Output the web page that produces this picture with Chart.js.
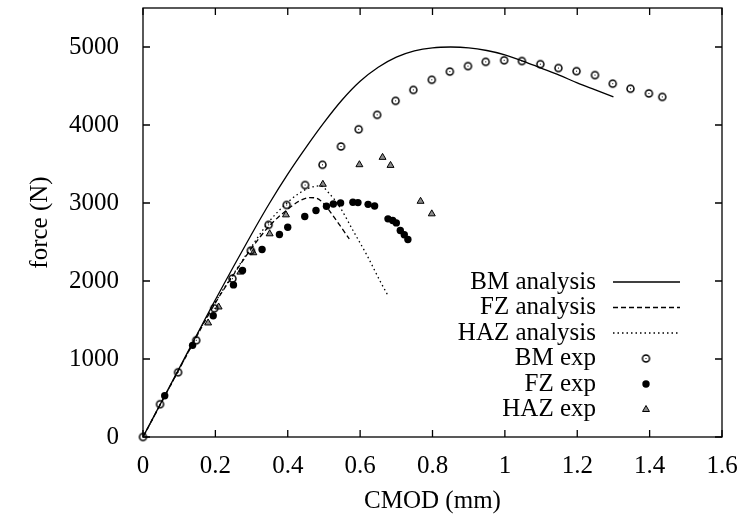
<!DOCTYPE html>
<html>
<head>
<meta charset="utf-8">
<script src="https://cdn.jsdelivr.net/npm/chart.js@4.4.0/dist/chart.umd.min.js"></script>
<style>
  html, body { margin: 0; padding: 0; background: #fff; }
  canvas { display: block; }
</style>
</head>
<body>
<canvas id="myChart" width="742" height="516"></canvas>
<script>
// analysis curves (CMOD mm, force N)
const bmAnaX = [0, 0.1, 0.2, 0.3, 0.35, 0.4, 0.45, 0.5, 0.55, 0.6, 0.65, 0.7, 0.75, 0.8, 0.85, 0.9, 0.95, 1.0, 1.05, 1.1, 1.15, 1.2, 1.25, 1.3];
const bmAnaY = [0, 880, 1760, 2600, 3000, 3370, 3710, 4030, 4320, 4560, 4740, 4870, 4950, 4990, 5000, 4990, 4955, 4900, 4820, 4730, 4640, 4540, 4450, 4360];
const fzAnaX = [0, 0.1, 0.2, 0.25, 0.3, 0.35, 0.4, 0.43, 0.46, 0.48, 0.5, 0.52, 0.54, 0.57];
const fzAnaY = [0, 870, 1720, 2080, 2420, 2710, 2920, 3020, 3070, 3060, 2990, 2870, 2740, 2540];
const hazAnaX = [0, 0.1, 0.2, 0.25, 0.3, 0.35, 0.4, 0.43, 0.46, 0.49, 0.515, 0.545, 0.58, 0.62, 0.655, 0.675];
const hazAnaY = [0, 870, 1730, 2090, 2440, 2770, 3010, 3120, 3195, 3220, 3120, 2940, 2650, 2320, 2000, 1830];

// experiments
const bmExpX = [0, 0.047, 0.097, 0.147, 0.197, 0.247, 0.298, 0.347, 0.397, 0.448, 0.496, 0.547, 0.596, 0.647, 0.698, 0.747, 0.798, 0.848, 0.898, 0.947, 0.998, 1.047, 1.098, 1.148, 1.198, 1.249, 1.298, 1.347, 1.398, 1.435];
const bmExpY = [0, 420, 830, 1240, 1650, 2030, 2390, 2720, 2975, 3230, 3490, 3725, 3945, 4130, 4310, 4450, 4580, 4685, 4755, 4810, 4830, 4820, 4780, 4730, 4690, 4640, 4530, 4465, 4405, 4360];
const fzExpX = [0.06, 0.137, 0.194, 0.25, 0.275, 0.329, 0.377, 0.4, 0.447, 0.478, 0.507, 0.526, 0.546, 0.58, 0.594, 0.622, 0.64, 0.677, 0.69, 0.7, 0.711, 0.722, 0.732];
const fzExpY = [528, 1175, 1555, 1950, 2136, 2404, 2596, 2689, 2826, 2903, 2958, 2988, 3001, 3009, 3005, 2983, 2962, 2797, 2775, 2745, 2647, 2592, 2532];
const hazExpX = [0.18, 0.209, 0.269, 0.305, 0.35, 0.395, 0.497, 0.598, 0.662, 0.684, 0.767, 0.798];
const hazExpY = [1462, 1667, 2114, 2362, 2605, 2848, 3240, 3491, 3585, 3482, 3022, 2861];

const xTicks = [0, 0.2, 0.4, 0.6, 0.8, 1, 1.2, 1.4, 1.6];
const yTicks = [0, 1000, 2000, 3000, 4000, 5000];

const seriesNames = ['BM analysis', 'FZ analysis', 'HAZ analysis', 'BM exp', 'FZ exp', 'HAZ exp'];
const xTitle = 'CMOD (mm)';
const yTitle = 'force (N)';

const FONT = '"Liberation Serif", "DejaVu Serif", serif';

const pairs = (xs, ys) => xs.map((x, i) => ({ x: x, y: ys[i] }));

// open circle with a dot in the middle
const ringDot = () => {
    const c = document.createElement('canvas');
    c.width = 11; c.height = 11;
    const g = c.getContext('2d');
    g.strokeStyle = '#000';
    g.lineWidth = 1.5;
    g.beginPath();
    g.arc(5.5, 5.5, 3.5, 0, 2 * Math.PI);
    g.stroke();
    g.fillStyle = '#000';
    g.fillRect(5, 5, 1, 1);
    return c;
}
const ringImg = ringDot();

const lineSet = (label, xs, ys, dash) => ({
    label: label,
    data: pairs(xs, ys),
    showLine: true,
    borderColor: '#000',
    borderWidth: 1.3,
    borderDash: dash,
    pointRadius: 0,
    cubicInterpolationMode: 'monotone',
    fill: false
});

// inward ticks + box, like gnuplot
const framePlugin = {
    id: 'frame',
    beforeDatasetsDraw(chart) {
        const ctx = chart.ctx;
        const { left, right, top, bottom } = chart.chartArea;
        const xs = chart.scales.x, ys = chart.scales.y;
        ctx.save();
        ctx.strokeStyle = '#000';
        ctx.lineWidth = 1.3;
        ctx.strokeRect(left, top, right - left, bottom - top);
        ctx.beginPath();
        xs.ticks.forEach((t) => {
            const px = xs.getPixelForValue(t.value);
            ctx.moveTo(px, bottom); ctx.lineTo(px, bottom - 7);
            ctx.moveTo(px, top); ctx.lineTo(px, top + 7);
        });
        ys.ticks.forEach((t) => {
            const py = ys.getPixelForValue(t.value);
            ctx.moveTo(left, py); ctx.lineTo(left + 7, py);
            ctx.moveTo(right, py); ctx.lineTo(right - 7, py);
        });
        ctx.stroke();
        ctx.restore();
    }
};

// key inside the plot, text on the left, sample on the right
const keyPlugin = {
    id: 'key',
    afterDraw(chart) {
        const ctx = chart.ctx;
        const { right } = chart.chartArea;
        const textRight = right - 126;
        const sx0 = right - 109, sx1 = right - 42, sxc = right - 76;
        ctx.save();
        ctx.font = '25px ' + FONT;
        ctx.textAlign = 'right';
        ctx.textBaseline = 'middle';
        chart.data.datasets.forEach((ds, i) => {
            const y = 282 + i * 25.5;
            ctx.fillStyle = '#000';
            ctx.fillText(ds.label, textRight, y);
            ctx.strokeStyle = '#000';
            if (ds.showLine) {
                ctx.lineWidth = ds.borderWidth;
                ctx.setLineDash(ds.borderDash || []);
                ctx.beginPath();
                ctx.moveTo(sx0, y); ctx.lineTo(sx1, y);
                ctx.stroke();
                ctx.setLineDash([]);
            } else if (ds.pointStyle === 'triangle') {
                const r = ds.pointRadius;
                ctx.fillStyle = ds.backgroundColor;
                ctx.lineWidth = 1;
                ctx.beginPath();
                ctx.moveTo(sxc, y - r);
                ctx.lineTo(sxc + r * Math.sin(Math.PI / 3), y + r / 2);
                ctx.lineTo(sxc - r * Math.sin(Math.PI / 3), y + r / 2);
                ctx.closePath();
                ctx.fill(); ctx.stroke();
            } else if (ds.pointStyle === 'circle') {
                ctx.fillStyle = ds.backgroundColor;
                ctx.beginPath();
                ctx.arc(sxc, y, ds.pointRadius, 0, 2 * Math.PI);
                ctx.fill();
            } else {
                ctx.drawImage(ds.pointStyle, sxc - 5.5, y - 5.5);
            }
        });
        ctx.restore();
    }
};

const ctx = document.getElementById('myChart').getContext('2d');
const myChart = new Chart(ctx, {
    type: 'scatter',
    data: {
        datasets: [
            lineSet(seriesNames[0], bmAnaX, bmAnaY, []),
            lineSet(seriesNames[1], fzAnaX, fzAnaY, [5, 3]),
            lineSet(seriesNames[2], hazAnaX, hazAnaY, [1.5, 3]),
            {
                label: seriesNames[3],
                data: pairs(bmExpX, bmExpY),
                pointStyle: ringImg,
                pointRadius: 4,
                clip: false,
                showLine: false
            },
            {
                label: seriesNames[4],
                data: pairs(fzExpX, fzExpY),
                pointStyle: 'circle',
                pointRadius: 3.7,
                backgroundColor: '#000',
                borderColor: '#000',
                borderWidth: 0,
                showLine: false
            },
            {
                label: seriesNames[5],
                data: pairs(hazExpX, hazExpY),
                pointStyle: 'triangle',
                pointRadius: 4,
                backgroundColor: '#8c8c8c',
                borderColor: '#000',
                borderWidth: 1,
                showLine: false
            }
        ]
    },
    options: {
        responsive: false,
        animation: false,
        devicePixelRatio: 1,
        layout: { padding: { left: 0, right: 20, top: 8, bottom: 0 } },
        plugins: {
            legend: { display: false },
            tooltip: { enabled: false }
        },
        scales: {
            x: {
                type: 'linear',
                min: 0,
                max: 1.6,
                grid: { display: false },
                border: { display: false },
                afterBuildTicks: (scale) => { scale.ticks = xTicks.map(v => ({ value: v })); },
                ticks: {
                    color: '#000',
                    padding: 6,
                    maxRotation: 0,
                    autoSkip: false,
                    callback: (v) => String(v),
                    font: { family: FONT, size: 25 }
                },
                title: {
                    display: true,
                    text: xTitle,
                    color: '#000',
                    font: { family: FONT, size: 25 },
                    padding: { top: 0, bottom: 0 }
                },
                afterFit: (scale) => {
                    scale.height = 79;
                    scale.paddingLeft = 0;
                    scale.paddingRight = 0;
                }
            },
            y: {
                type: 'linear',
                min: 0,
                max: 5500,
                grid: { display: false },
                border: { display: false },
                afterBuildTicks: (scale) => { scale.ticks = yTicks.map(v => ({ value: v })); },
                ticks: {
                    color: '#000',
                    padding: 16,
                    autoSkip: false,
                    callback: (v) => String(v),
                    font: { family: FONT, size: 25 }
                },
                title: {
                    display: true,
                    text: yTitle,
                    color: '#000',
                    font: { family: FONT, size: 25 },
                    padding: { top: 25, bottom: 0 }
                },
                afterFit: (scale) => {
                    scale.width = 143;
                    scale.paddingTop = 0;
                    scale.paddingBottom = 0;
                }
            }
        }
    },
    plugins: [framePlugin, keyPlugin]
});
</script>
</body>
</html>
